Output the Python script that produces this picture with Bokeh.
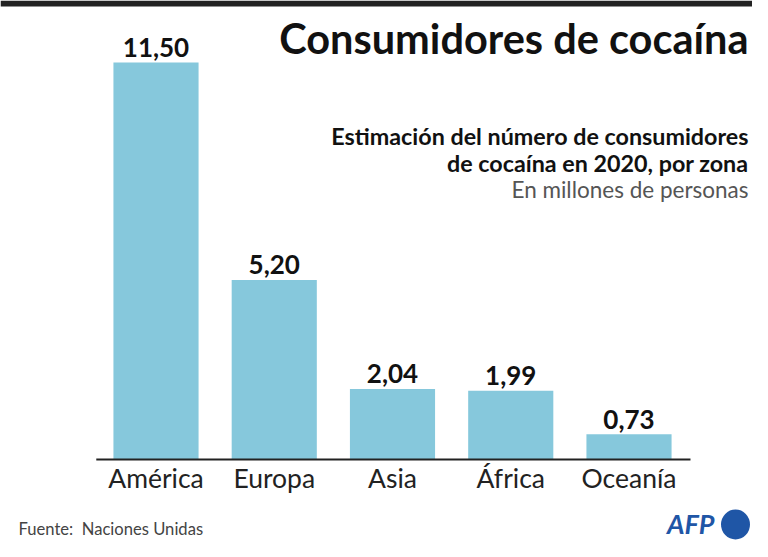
from bokeh.plotting import figure
from bokeh.models import Range1d, Label
from bokeh.embed import file_html
from bokeh.resources import INLINE
from bokeh.core.properties import value

# ---- data ----
categories = ["América", "Europa", "Asia", "África", "Oceanía"]
consumers = [11.50, 5.20, 2.04, 1.99, 0.73]
value_labels = ["11,50", "5,20", "2,04", "1,99", "0,73"]

title_text = "Consumidores de cocaína"
subtitle_lines = ["Estimación del número de consumidores",
                  "de cocaína en 2020, por zona"]
unit_text = "En millones de personas"
source_text = "Fuente:\u00a0 Naciones Unidas"

# ---- layout (pixel geometry of the canvas) ----
W, H = 752, 541
X0 = 155.5          # px centre of first category
DX = 118.25         # px between categories
Y0 = 459            # px of baseline (from top)
PXU = 397 / 11.5    # px per unit
BL = 0.39           # baseline correction (fraction of font size)


def dx(px):
    return (px - X0) / DX


def dy(py):
    return (Y0 - py) / PXU


def base(py, fs):
    # data y so that the text's alphabetic baseline lands at pixel row py
    return dy(py - BL * fs)


FONT = "Lato"
BAR = "#86c8dc"
INK = "#111111"

p = figure(width=W, height=H,
           x_range=Range1d(dx(0), dx(W)), y_range=Range1d(dy(H), dy(0)),
           min_border=0, toolbar_location=None, output_backend="svg",
           x_axis_location=None, y_axis_location=None)
p.grid.visible = False
p.outline_line_color = None
p.background_fill_color = "white"

idx = list(range(len(categories)))

p.vbar(x=idx, top=consumers, width=0.72, color=BAR, line_color=None)

# baseline
p.segment(x0=[-0.505], x1=[len(categories) - 0.48], y0=[0], y1=[0],
          line_color="#222222", line_width=2)

# value labels
VFS = 26
p.text(x=idx, y=consumers, text=value_labels, text_align="center",
       text_baseline="alphabetic", y_offset=-5 - BL * VFS,
       text_font=value(FONT), text_font_style="bold",
       text_font_size=f"{VFS}px", text_color=INK)

# category labels
CFS = 26.5
p.text(x=idx, y=[0] * len(idx), text=categories, text_align="center",
       text_baseline="alphabetic", y_offset=29 - BL * CFS,
       text_font=value(FONT), text_font_size=f"{CFS}px", text_color="#222222")

# top black bar
p.quad(left=[dx(0)], right=[dx(W)], top=[dy(0)], bottom=[dy(6)],
       color="#222222", line_color=None)

# title
TFS = 41.5
p.add_layout(Label(x=dx(748), y=base(54, TFS), text=title_text,
                   text_align="right", text_baseline="alphabetic",
                   text_font=FONT, text_font_style="bold",
                   text_font_size=f"{TFS}px", text_color=INK))

SFS = 23.3
for i, line in enumerate(subtitle_lines):
    p.add_layout(Label(x=dx(748), y=base(145 + 27 * i, SFS), text=line,
                       text_align="right", text_baseline="alphabetic",
                       text_font=FONT, text_font_style="bold",
                       text_font_size=f"{SFS}px", text_color=INK))

UFS = 22.5
p.add_layout(Label(x=dx(748), y=base(198, UFS), text=unit_text,
                   text_align="right", text_baseline="alphabetic",
                   text_font=FONT, text_font_size=f"{UFS}px",
                   text_color="#555555"))

# footer
FFS = 16.6
p.add_layout(Label(x=dx(18), y=base(535, FFS), text=source_text,
                   text_align="left", text_baseline="alphabetic",
                   text_font=FONT, text_font_size=f"{FFS}px",
                   text_color="#444444"))

# AFP logo
AFS = 27
p.add_layout(Label(x=dx(714), y=base(534, AFS), text="AFP",
                   text_align="right", text_baseline="alphabetic",
                   text_font=FONT, text_font_style="bold italic",
                   text_font_size=f"{AFS}px", text_color="#1f56a6"))
p.ellipse(x=[dx(735)], y=[dy(524)], width=29 / DX, height=30 / PXU,
          color="#1f56a6", line_color=None)

open("out.html", "w").write(file_html(p, INLINE))
